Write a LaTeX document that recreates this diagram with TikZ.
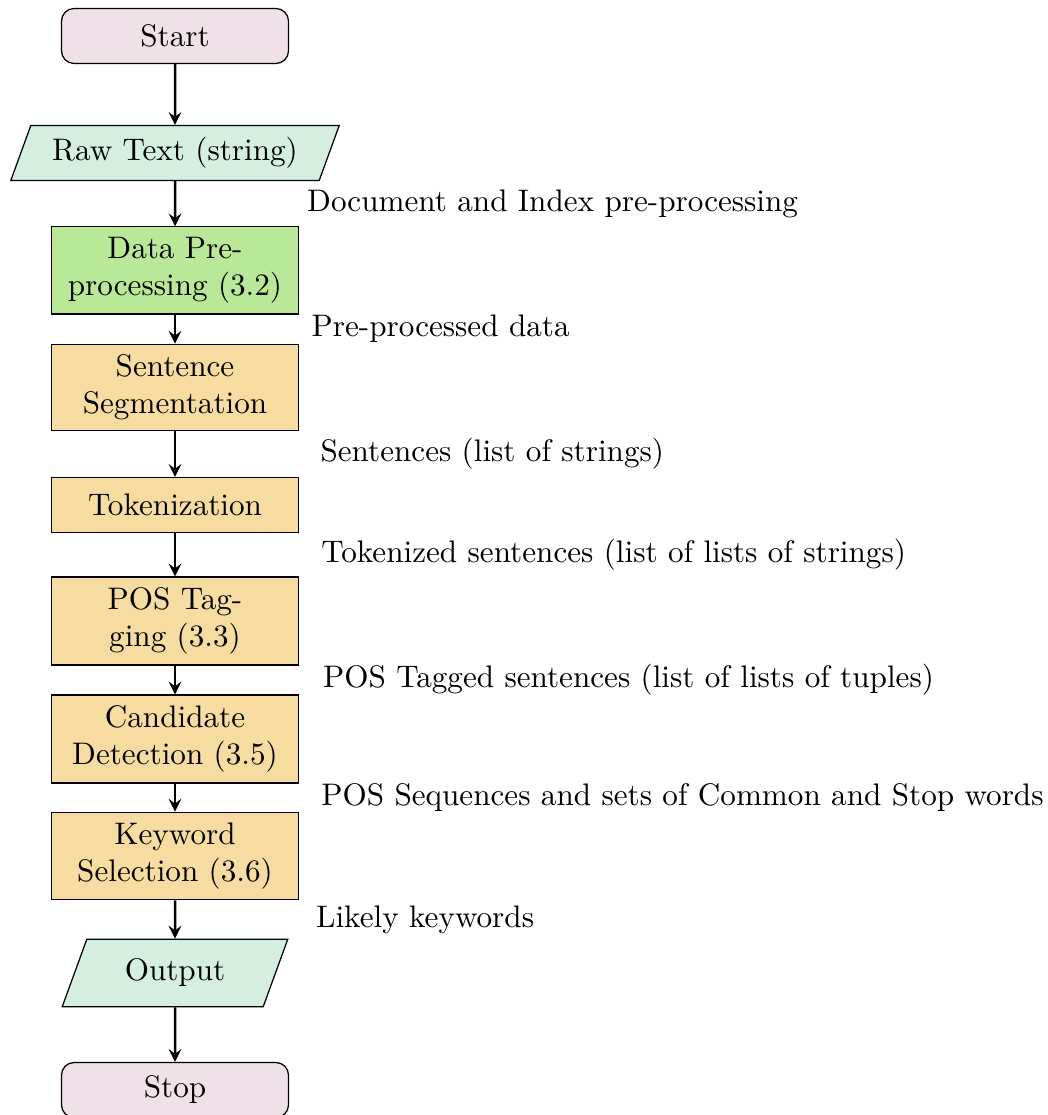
\documentclass[tikz,border=0pt]{standalone}
\usepackage{amsmath}
\usetikzlibrary{shapes.geometric}
\definecolor{termcol}{RGB}{240,224,232}
\definecolor{iocol}{RGB}{212,238,224}
\definecolor{precol}{RGB}{185,233,152}
\definecolor{proccol}{RGB}{246,220,160}
\begin{document}
\begin{tikzpicture}
\tikzstyle{term}=[rectangle, rounded corners, minimum width=2.56cm, minimum height=0.62cm, draw=black, fill=termcol]
\tikzstyle{io}=[trapezium, trapezium left angle=70, trapezium right angle=110, inner xsep=4.3pt, minimum width=2.56cm, minimum height=0.62cm, draw=black, fill=iocol]
\tikzstyle{proc}=[rectangle, text width=2.5cm, align=center, minimum width=2.78cm, minimum height=0.62cm, draw=black, fill=proccol]
\tikzstyle{arrow}=[thick, ->, >=stealth]
\tikzstyle{note}=[anchor=west]
\useasboundingbox (0,0) rectangle (11.81,-12.577);
\node (start) [term] at (1.974,-0.406) {Start};
\node (raw) [io] at (1.974,-1.726) {Raw Text (string)};
\node (pre) [proc, fill=precol] at (1.974,-3.051) {Data Pre-processing (3.2)};
\node (sent) [proc] at (1.974,-4.371) {Sentence Segmentation};
\node (tok) [proc] at (1.974,-5.696) {Tokenization};
\node (pos) [proc] at (1.974,-7.005) {POS Tagging (3.3)};
\node (cand) [proc] at (1.974,-8.336) {Candidate Detection (3.5)};
\node (key) [proc] at (1.974,-9.656) {Keyword Selection (3.6)};
\node (out) [io] at (1.974,-10.975) {Output};
\node (stop) [term] at (1.974,-12.295) {Stop};
\draw [arrow] (start) -- (raw);
\draw [arrow] (raw) -- node [note, xshift=1.36cm] {Document and Index pre-processing} (pre);
\draw [arrow] (pre) -- node [note, xshift=1.41cm] {Pre-processed data} (sent);
\draw [arrow] (sent) -- node [note, xshift=1.51cm] {Sentences (list of strings)} (tok);
\draw [arrow] (tok) -- node [note, xshift=1.52cm] {Tokenized sentences (list of lists of strings)} (pos);
\draw [arrow] (pos) -- node [note, xshift=1.54cm] {POS Tagged sentences (list of lists of tuples)} (cand);
\draw [arrow] (cand) -- node [note, xshift=1.52cm] {POS Sequences and sets of Common and Stop words} (key);
\draw [arrow] (key) -- node [note, xshift=1.46cm] {Likely keywords} (out);
\draw [arrow] (out) -- (stop);
\end{tikzpicture}
\end{document}
